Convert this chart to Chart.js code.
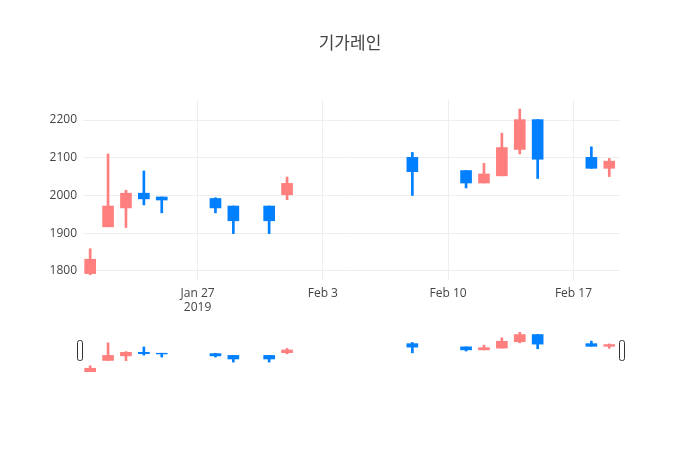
<!DOCTYPE html>
<html>
<head>
<meta charset="utf-8">
<script src="https://cdn.jsdelivr.net/npm/chart.js@4"></script>
<style>
  body { margin: 0; background: #fff; }
  #wrap { position: relative; width: 700px; height: 450px; }
  canvas { position: absolute; left: 0; }
</style>
</head>
<body>
<div id="wrap">
  <canvas id="main" width="700" height="450" style="top:0"></canvas>
  <canvas id="slider" width="700" height="46" style="top:330px"></canvas>
</div>
<script>
//------ Data (day 0 = 2019-01-21) ------//
const days  = [0, 1, 2, 3, 4, 7, 8, 10, 11, 18, 21, 22, 23, 24, 25, 28, 29];
const opens  = [1793, 1917, 1967, 2006, 1996, 1992, 1972, 1972, 2002, 2101, 2066, 2033, 2052, 2122, 2201, 2101, 2072];
const highs  = [1859, 2110, 2014, 2065, 1996, 1994, 1972, 1972, 2049, 2114, 2066, 2085, 2165, 2229, 2201, 2129, 2098];
const lows   = [1790, 1917, 1915, 1975, 1954, 1954, 1899, 1899, 1989, 2000, 2020, 2033, 2052, 2110, 2045, 2072, 2050];
const closes = [1831, 1972, 2006, 1991, 1988, 1967, 1933, 1933, 2032, 2063, 2033, 2057, 2127, 2201, 2096, 2072, 2091];
const tickDays = [6, 13, 20, 27];
const tickLabels = [['Jan 27', '2019'], 'Feb 3', 'Feb 10', 'Feb 17'];

const upColor = '#FF7F7F';
const downColor = '#007FFF';
const colors = days.map((d, i) => closes[i] >= opens[i] ? upColor : downColor);

const bodies = days.map((d, i) => ({x: d, y: [opens[i], closes[i]]}));
const wicks  = days.map((d, i) => ({x: d, y: [lows[i], highs[i]]}));

function candleSets(bodyW) {
  return [{
    data: wicks, backgroundColor: colors, barThickness: 2, grouped: false, order: 2
  }, {
    data: bodies, backgroundColor: colors, barThickness: bodyW, grouped: false, order: 1
  }];
}

const font = { family: '"Open Sans", sans-serif', size: 12 };

//------ Title plugin ------//
const titlePlugin = {
  id: 'titleText',
  afterDraw(chart) {
    const c = chart.ctx;
    c.save();
    c.fillStyle = '#444';
    c.font = '17px "Open Sans", "Noto Sans CJK KR", sans-serif';
    c.textAlign = 'center';
    c.textBaseline = 'middle';
    c.fillText('기가레인', 350, 44);
    c.restore();
  }
};

//------ Main chart ------//
new Chart(document.getElementById('main'), {
  type: 'bar',
  data: { datasets: candleSets(11) },
  options: {
    responsive: false, animation: false,
    layout: { padding: { top: 100, right: 80, bottom: 120, left: 0 } },
    plugins: { legend: { display: false }, tooltip: { enabled: false } },
    scales: {
      x: {
        type: 'linear', min: -0.4, max: 29.6, offset: false,
        afterBuildTicks: s => { s.ticks = tickDays.map(v => ({ value: v })); },
        afterFit: s => { s.height = 50; },
        grid: { color: '#eee', drawTicks: false, offset: false },
        border: { display: false },
        ticks: {
          color: '#444', font, padding: 6, maxRotation: 0,
          callback: v => tickLabels[tickDays.indexOf(v)]
        }
      },
      y: {
        min: 1776, max: 2253,
        afterBuildTicks: s => { s.ticks = [1800, 1900, 2000, 2100, 2200].map(v => ({ value: v })); },
        afterFit: s => { s.width = 83; },
        grid: { color: '#eee', drawTicks: false },
        border: { display: false },
        ticks: { color: '#444', font, padding: 6, callback: v => String(v) }
      }
    }
  },
  plugins: [titlePlugin]
});

//------ Range slider ------//
const handlePlugin = {
  id: 'handles',
  afterDraw(chart) {
    const c = chart.ctx;
    const a = chart.chartArea;
    c.save();
    c.fillStyle = '#fff';
    c.strokeStyle = '#333';
    c.lineWidth = 1;
    [a.left - 3, a.right + 2].forEach(x => {
      c.beginPath();
      c.roundRect(x - 2.5, 10.5, 5, 20, 2);
      c.fill();
      c.stroke();
    });
    c.restore();
  }
};

new Chart(document.getElementById('slider'), {
  type: 'bar',
  data: { datasets: candleSets(11) },
  options: {
    responsive: false, animation: false,
    layout: { padding: { top: 2, right: 80, bottom: 4, left: 83 } },
    plugins: { legend: { display: false }, tooltip: { enabled: false } },
    scales: {
      x: { type: 'linear', min: -0.4, max: 29.6, offset: false, display: false },
      y: { min: 1790, max: 2229, display: false }
    }
  },
  plugins: [handlePlugin]
});
</script>
</body>
</html>
